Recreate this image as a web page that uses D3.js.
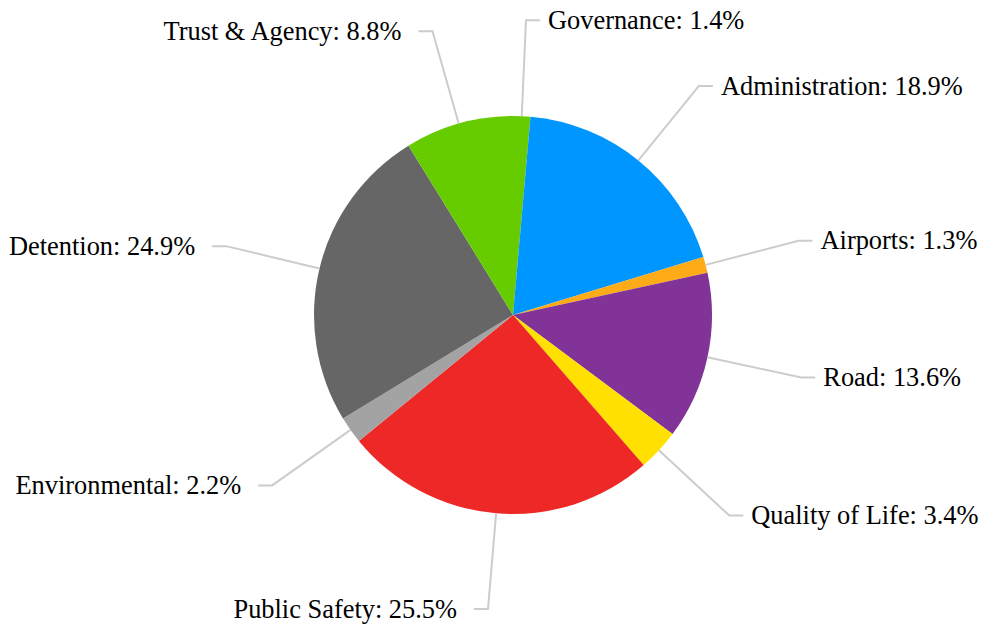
<!DOCTYPE html>
<html>
<head>
<meta charset="utf-8">
<script src="https://cdn.jsdelivr.net/npm/d3@7"></script>
<style>
  html, body { margin: 0; padding: 0; background: #fff; }
  svg { display: block; }
</style>
</head>
<body>
<svg id="chart" width="985" height="625"></svg>
<script>
// Budget share by department (percent), clockwise from 12 o'clock
const categories = ["Governance", "Administration", "Airports", "Road", "Quality of Life",
                    "Public Safety", "Environmental", "Detention", "Trust & Agency"];
const values = [1.4, 18.9, 1.3, 13.6, 3.4, 25.5, 2.2, 24.9, 8.8];
const colors = ["#66cc00", "#0096ff", "#fdab17", "#813398", "#ffe000",
                "#ee2826", "#a3a3a3", "#666666", "#66cc00"];

const width = 985, height = 625;
const cx = 513, cy = 315, radius = 199;
const elbowR = 295, tail = 14, gapRight = 8, gapLeft = 17;

const data = categories.map((c, i) => ({ name: c, value: values[i], color: colors[i] }));

const svg = d3.select("#chart");
const g = svg.append("g").attr("transform", `translate(${cx},${cy})`);

const pie = d3.pie().value(d => d.value).sort(null);
const arcs = pie(data);
const arc = d3.arc().innerRadius(0).outerRadius(radius);

g.selectAll("path.slice")
  .data(arcs)
  .join("path")
  .attr("class", "slice")
  .attr("d", arc)
  .attr("fill", d => d.data.color);

// Leader lines: slice edge -> elbow -> short horizontal tail
function pt(a, r) { return [r * Math.sin(a), -r * Math.cos(a)]; }

arcs.forEach(d => {
  const mid = (d.startAngle + d.endAngle) / 2;
  const p0 = pt(mid, radius);
  const p1 = pt(mid, elbowR);
  const right = Math.sin(mid) >= 0;
  const p2 = [p1[0] + (right ? tail : -tail), p1[1]];
  g.append("polyline")
    .attr("points", [p0, p1, p2].map(p => p.join(",")).join(" "))
    .attr("fill", "none")
    .attr("stroke", "#cccccc")
    .attr("stroke-width", 2);
  g.append("text")
    .attr("x", p2[0] + (right ? gapRight : -gapLeft))
    .attr("y", p2[1])
    .attr("dy", "0.33em")
    .attr("text-anchor", right ? "start" : "end")
    .attr("font-family", "'Liberation Serif', 'Times New Roman', serif")
    .attr("font-size", 26.4)
    .attr("fill", "#000")
    .text(`${d.data.name}: ${d3.format(".1f")(d.data.value)}%`);
});
</script>
</body>
</html>
